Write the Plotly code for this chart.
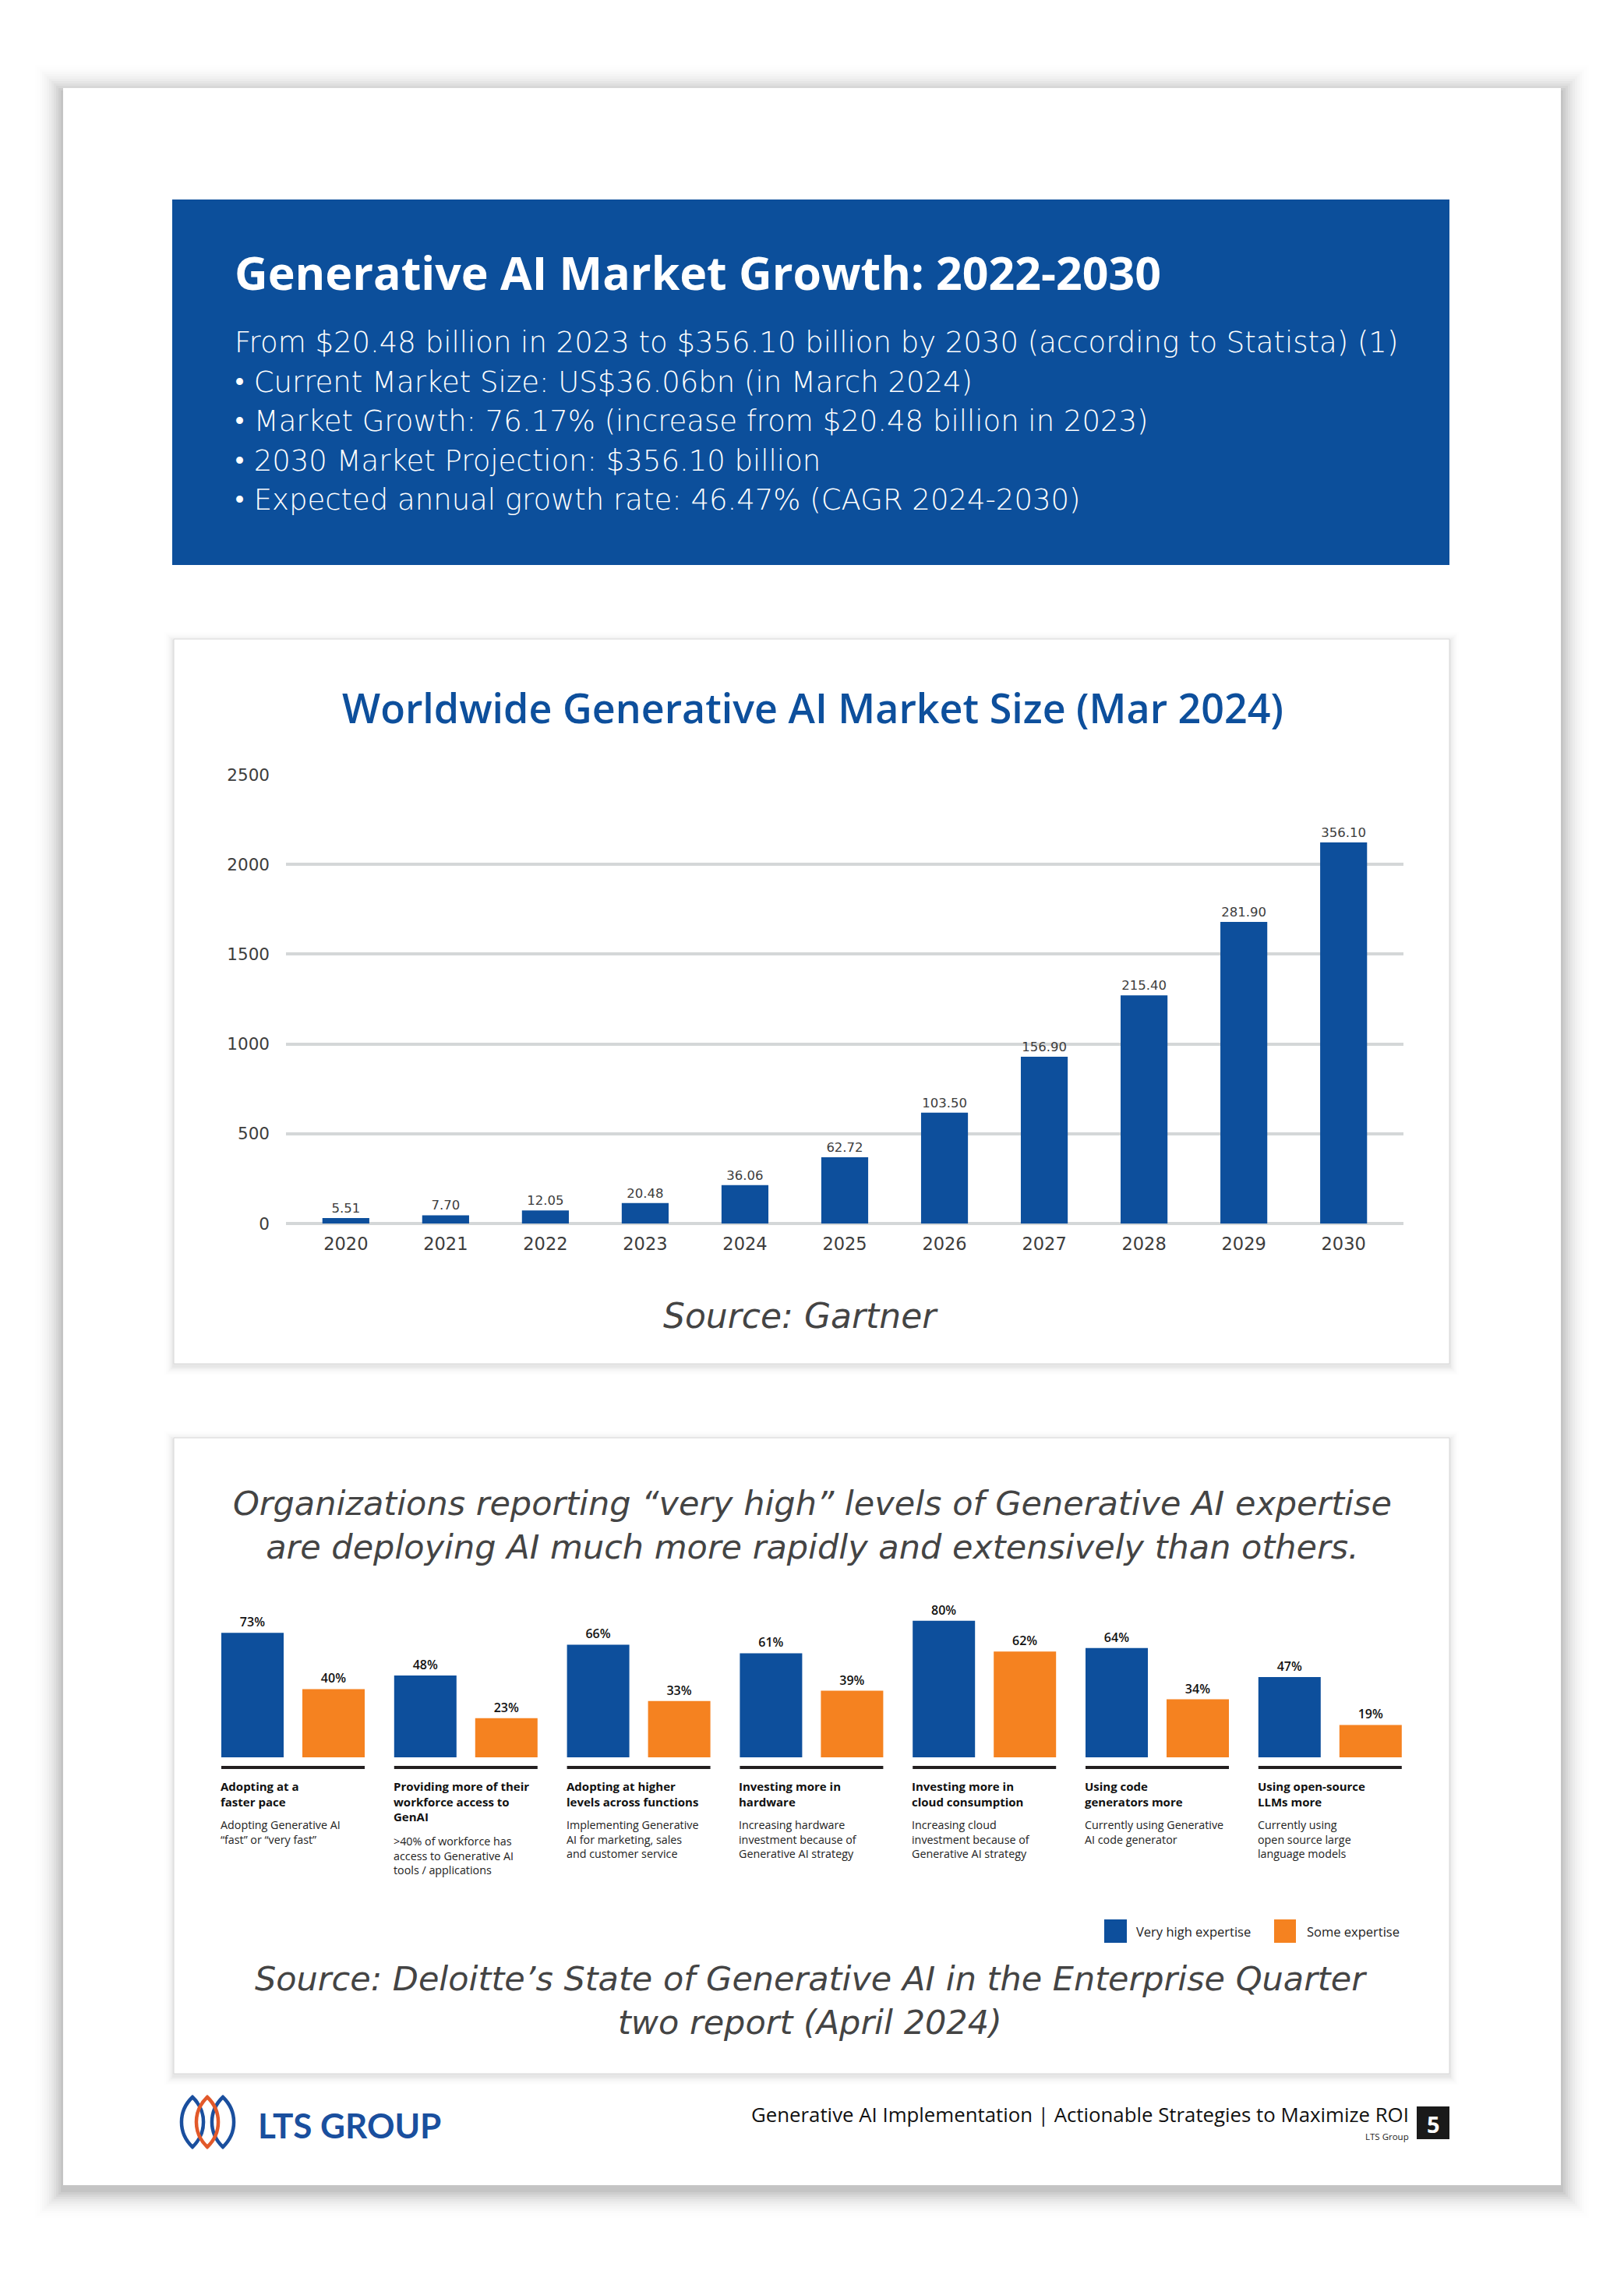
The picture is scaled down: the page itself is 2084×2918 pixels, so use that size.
import plotly.graph_objects as go

W, H = 2084, 2918

# ---------------- DATA ----------------
header_title = "Generative AI Market Growth: 2022-2030"
header_lines = [
    "From $20.48 billion in 2023 to $356.10 billion by 2030 (according to Statista) (1)",
    "• Current Market Size: US$36.06bn (in March 2024)",
    "• Market Growth: 76.17% (increase from $20.48 billion in 2023)",
    "• 2030 Market Projection: $356.10 billion",
    "• Expected annual growth rate: 46.47% (CAGR 2024-2030)",
]

chart1_title = "Worldwide Generative AI Market Size (Mar 2024)"
years = ["2020", "2021", "2022", "2023", "2024", "2025", "2026", "2027", "2028", "2029", "2030"]
market_bar_height = [30, 46, 73, 114, 214, 369, 617, 929, 1271, 1680, 2122]
market_size_label = ["5.51", "7.70", "12.05", "20.48", "36.06", "62.72",
                     "103.50", "156.90", "215.40", "281.90", "356.10"]
y1_ticks = [0, 500, 1000, 1500, 2000, 2500]
chart1_source = "Source: Gartner"

chart2_heading = ("Organizations reporting “very high” levels of Generative AI expertise<br>"
                  "are deploying AI much more rapidly and extensively than others.")
cat_keys = ["pace", "access", "functions", "hardware", "cloud", "code", "llm"]
cat_titles = [
    "Adopting at a<br>faster pace",
    "Providing more of their<br>workforce access to<br>GenAI",
    "Adopting at higher<br>levels across functions",
    "Investing more in<br>hardware",
    "Investing more in<br>cloud consumption",
    "Using code<br>generators more",
    "Using open-source<br>LLMs more",
]
cat_desc = [
    "Adopting Generative AI<br>“fast” or “very fast”",
    "&gt;40% of workforce has<br>access to Generative AI<br>tools / applications",
    "Implementing Generative<br>AI for marketing, sales<br>and customer service",
    "Increasing hardware<br>investment because of<br>Generative AI strategy",
    "Increasing cloud<br>investment because of<br>Generative AI strategy",
    "Currently using Generative<br>AI code generator",
    "Currently using<br>open source large<br>language models",
]
very_high = [73, 48, 66, 61, 80, 64, 47]
some_exp = [40, 23, 33, 39, 62, 34, 19]
series_names = ["Very high expertise", "Some expertise"]
chart2_source = "Source: Deloitte’s State of Generative AI in the Enterprise Quarter<br>two report (April 2024)"

footer_brand = "LTS GROUP"
footer_text = "Generative AI Implementation | Actionable Strategies to Maximize ROI"
footer_small = "LTS Group"
page_number = "5"

# ---------------- STYLE ----------------
BLUE = "#0d4f9c"
ORANGE = "#f58220"
GRAY_TXT = "#3d3d3d"
SANS = "Open Sans"
WIDE = "DejaVu Sans"
GEO = "Lato"


def fx(px):
    return px / W


def fy(py):
    return 1 - py / H


shapes = []
annotations = []


def rect(x0, y0, x1, y1, fill, line=None, lw=0, layer="below"):
    shapes.append(dict(type="rect", xref="paper", yref="paper",
                       x0=fx(x0), x1=fx(x1), y0=fy(y1), y1=fy(y0),
                       fillcolor=fill, layer=layer,
                       line=dict(color=line or fill, width=lw)))


def text(x, y, s, size, color="#222", weight=400, style="normal", xanchor="left",
         yanchor="middle", align="left", family=SANS):
    annotations.append(dict(xref="paper", yref="paper", x=fx(x), y=fy(y), text=s,
                            showarrow=False, xanchor=xanchor, yanchor=yanchor, align=align,
                            font=dict(family=family, size=size, color=color, weight=weight,
                                      style=style)))


def shadow(x0, y0, x1, y1, reach, step, peak, dy=0):
    n = int(reach / step)
    for i in range(n, 0, -1):
        e = i * step
        t = 1 - e / (reach + step)
        a = peak * t * t / n * 3
        rect(x0 - e, y0 - e + dy, x1 + e, y1 + e + dy, f"rgba(0,0,0,{a:.4f})")


# page with shadow
shadow(81, 113, 2003, 2804, 45, 3, 0.26, dy=6)
rect(81, 113, 2003, 2804, "#ffffff")

# header box
rect(221, 256, 1860, 725, "#0c4f9b")
text(299, 349, f"<b>{header_title}</b>", 59, "#ffffff", weight=700)
for i, ln in enumerate(header_lines):
    text(299, 440 + i * 50.4, ln, 37, "#ffffff", weight=200, family=WIDE)

# card 1
shadow(223, 820, 1860, 1750, 14, 2, 0.10, dy=3)
rect(223, 820, 1860, 1750, "#ffffff", line="#d8d8d8", lw=1)
text(1043, 908, chart1_title, 52, BLUE, weight=600, xanchor="center")
text(1027, 1688, chart1_source, 44, "#444444", weight=200, style="italic", xanchor="center", family=WIDE)

# card 2
shadow(223, 1845, 1860, 2661, 14, 2, 0.10, dy=3)
rect(223, 1845, 1860, 2661, "#ffffff", line="#d8d8d8", lw=1)
text(1042, 1957, chart2_heading, 43, "#444444", weight=200, style="italic",
     xanchor="center", align="center", family=WIDE)
text(1040, 2567, chart2_source, 43, "#444444", weight=200, style="italic",
     xanchor="center", align="center", family=WIDE)

# ---------------- CHART 1 ----------------
fig = go.Figure()
fig.add_trace(go.Bar(
    x=years, y=market_bar_height, text=market_size_label, textposition="outside",
    textfont=dict(family=WIDE, size=16.5, color=GRAY_TXT), cliponaxis=False,
    marker=dict(color=BLUE, line=dict(width=0)), width=0.47, showlegend=False,
    xaxis="x", yaxis="y", hoverinfo="skip"))

# ---------------- CHART 2 ----------------
BAND = 221.8
BW = 80 / BAND
HALF = 92 / BAND
for vals, name, col in [(very_high, series_names[0], BLUE), (some_exp, series_names[1], ORANGE)]:
    fig.add_trace(go.Bar(
        x=cat_keys, y=vals, name=name, marker=dict(color=col, line=dict(width=0)),
        width=BW, offset=-HALF if col == BLUE else HALF - BW,
        texttemplate="%{y}%", textposition="outside", cliponaxis=False,
        textfont=dict(family=SANS, size=16, color="#111111", weight=600),
        xaxis="x2", yaxis="y2", showlegend=False, hoverinfo="skip"))

# group underlines, titles, descriptions
for i, k in enumerate(cat_keys):
    shapes.append(dict(type="line", xref="x2", yref="paper", x0=i - HALF, x1=i + HALF,
                       y0=fy(2268), y1=fy(2268), line=dict(color="#231f20", width=4),
                       layer="above"))
    annotations.append(dict(xref="x2", yref="paper", x=i - HALF, y=fy(2280), text=f"<b>{cat_titles[i]}</b>",
                            showarrow=False, xanchor="left", yanchor="top", align="left", xshift=-3,
                            font=dict(family=SANS, size=15, color="#111111", weight=700)))
    n = cat_titles[i].count("<br>") + 1
    annotations.append(dict(xref="x2", yref="paper", x=i - HALF, y=fy(2280 + n * 20.5 + 9), text=cat_desc[i],
                            showarrow=False, xanchor="left", yanchor="top", align="left", xshift=-3,
                            font=dict(family=SANS, size=14.3, color="#222222", weight=400)))

# legend (custom)
rect(1417, 2463, 1446, 2493, BLUE, layer="above")
text(1456, 2478, series_names[0], 16.5, "#222222", weight=400)
rect(1635, 2463, 1663, 2493, ORANGE, layer="above")
text(1675, 2478, series_names[1], 16.5, "#222222", weight=400)


# ---------------- FOOTER ----------------
def lens(cx, t, b, hw, color):
    h = b - t
    pts = [
        (cx, t),
        (cx + hw * 1.25, t + h * 0.28), (cx + hw * 1.25, b - h * 0.28), (cx, b),
        (cx - hw * 1.25, b - h * 0.28), (cx - hw * 1.25, t + h * 0.28), (cx, t),
    ]
    p = f"M{fx(pts[0][0])},{fy(pts[0][1])} "
    p += "C" + " ".join(f"{fx(a)},{fy(c)}" for a, c in pts[1:4]) + " "
    p += "C" + " ".join(f"{fx(a)},{fy(c)}" for a, c in pts[4:7]) + " Z"
    shapes.append(dict(type="path", xref="paper", yref="paper", path=p,
                       line=dict(color=color, width=4.5), fillcolor="rgba(0,0,0,0)", layer="above"))


lens(247, 2691, 2755, 15, "#1a4f9e")
lens(286, 2691, 2755, 15, "#1a4f9e")
lens(266, 2691, 2755, 15, "#e2592a")
text(329, 2727, f"<b>{footer_brand}</b>", 44, "#1a4f9e", weight=700, family=GEO)
text(1810, 2713, footer_text, 25.8, "#111111", weight=500, xanchor="right")
text(1810, 2741, footer_small, 11.5, "#222222", weight=400, xanchor="right")
rect(1818, 2703, 1860, 2745, "#1a1a1a", layer="above")
text(1839, 2725, f"<b>{page_number}</b>", 29, "#ffffff", weight=700, xanchor="center")

# ---------------- LAYOUT ----------------
Y1_TOP = 2504
fig.update_layout(
    template="none",
    width=W, height=H, autosize=False,
    margin=dict(l=0, r=0, t=0, b=0, pad=0, autoexpand=False),
    paper_bgcolor="#ffffff", plot_bgcolor="rgba(0,0,0,0)",
    barmode="overlay", showlegend=False, hovermode=False,
    font=dict(family=SANS, color=GRAY_TXT),
    xaxis=dict(domain=[fx(367), fx(1801)], range=[-0.6, 10.6], type="category",
               showgrid=False, zeroline=False, showline=False, ticks="", automargin=False,
               tickfont=dict(family=WIDE, size=22.5, color=GRAY_TXT), ticklabelstandoff=10,
               anchor="y", fixedrange=True),
    yaxis=dict(domain=[fy(1570), fy(1570 - Y1_TOP * 0.2304)], range=[0, Y1_TOP], tickvals=y1_ticks,
               showgrid=True, gridcolor="#d4d7d8", gridwidth=3.5, automargin=False,
               zeroline=True, zerolinecolor="#d4d7d8", zerolinewidth=3.5,
               showline=False, ticks="", ticklabelstandoff=20,
               tickfont=dict(family=WIDE, size=21.5, color=GRAY_TXT), anchor="x", fixedrange=True),
    xaxis2=dict(domain=[fx(376 - BAND / 2), fx(376 + 6.5 * BAND)], range=[-0.5, 6.5],
                type="category", visible=False, anchor="y2", fixedrange=True, automargin=False),
    yaxis2=dict(domain=[fy(2255), fy(2255 - 219)], range=[0, 100], visible=False,
                anchor="x2", fixedrange=True, automargin=False),
    shapes=shapes, annotations=annotations,
)

fig.write_html("out.html",
               config={"displayModeBar": False, "responsive": False},
               post_script="document.body.style.margin='0px';document.body.style.overflow='hidden';")
